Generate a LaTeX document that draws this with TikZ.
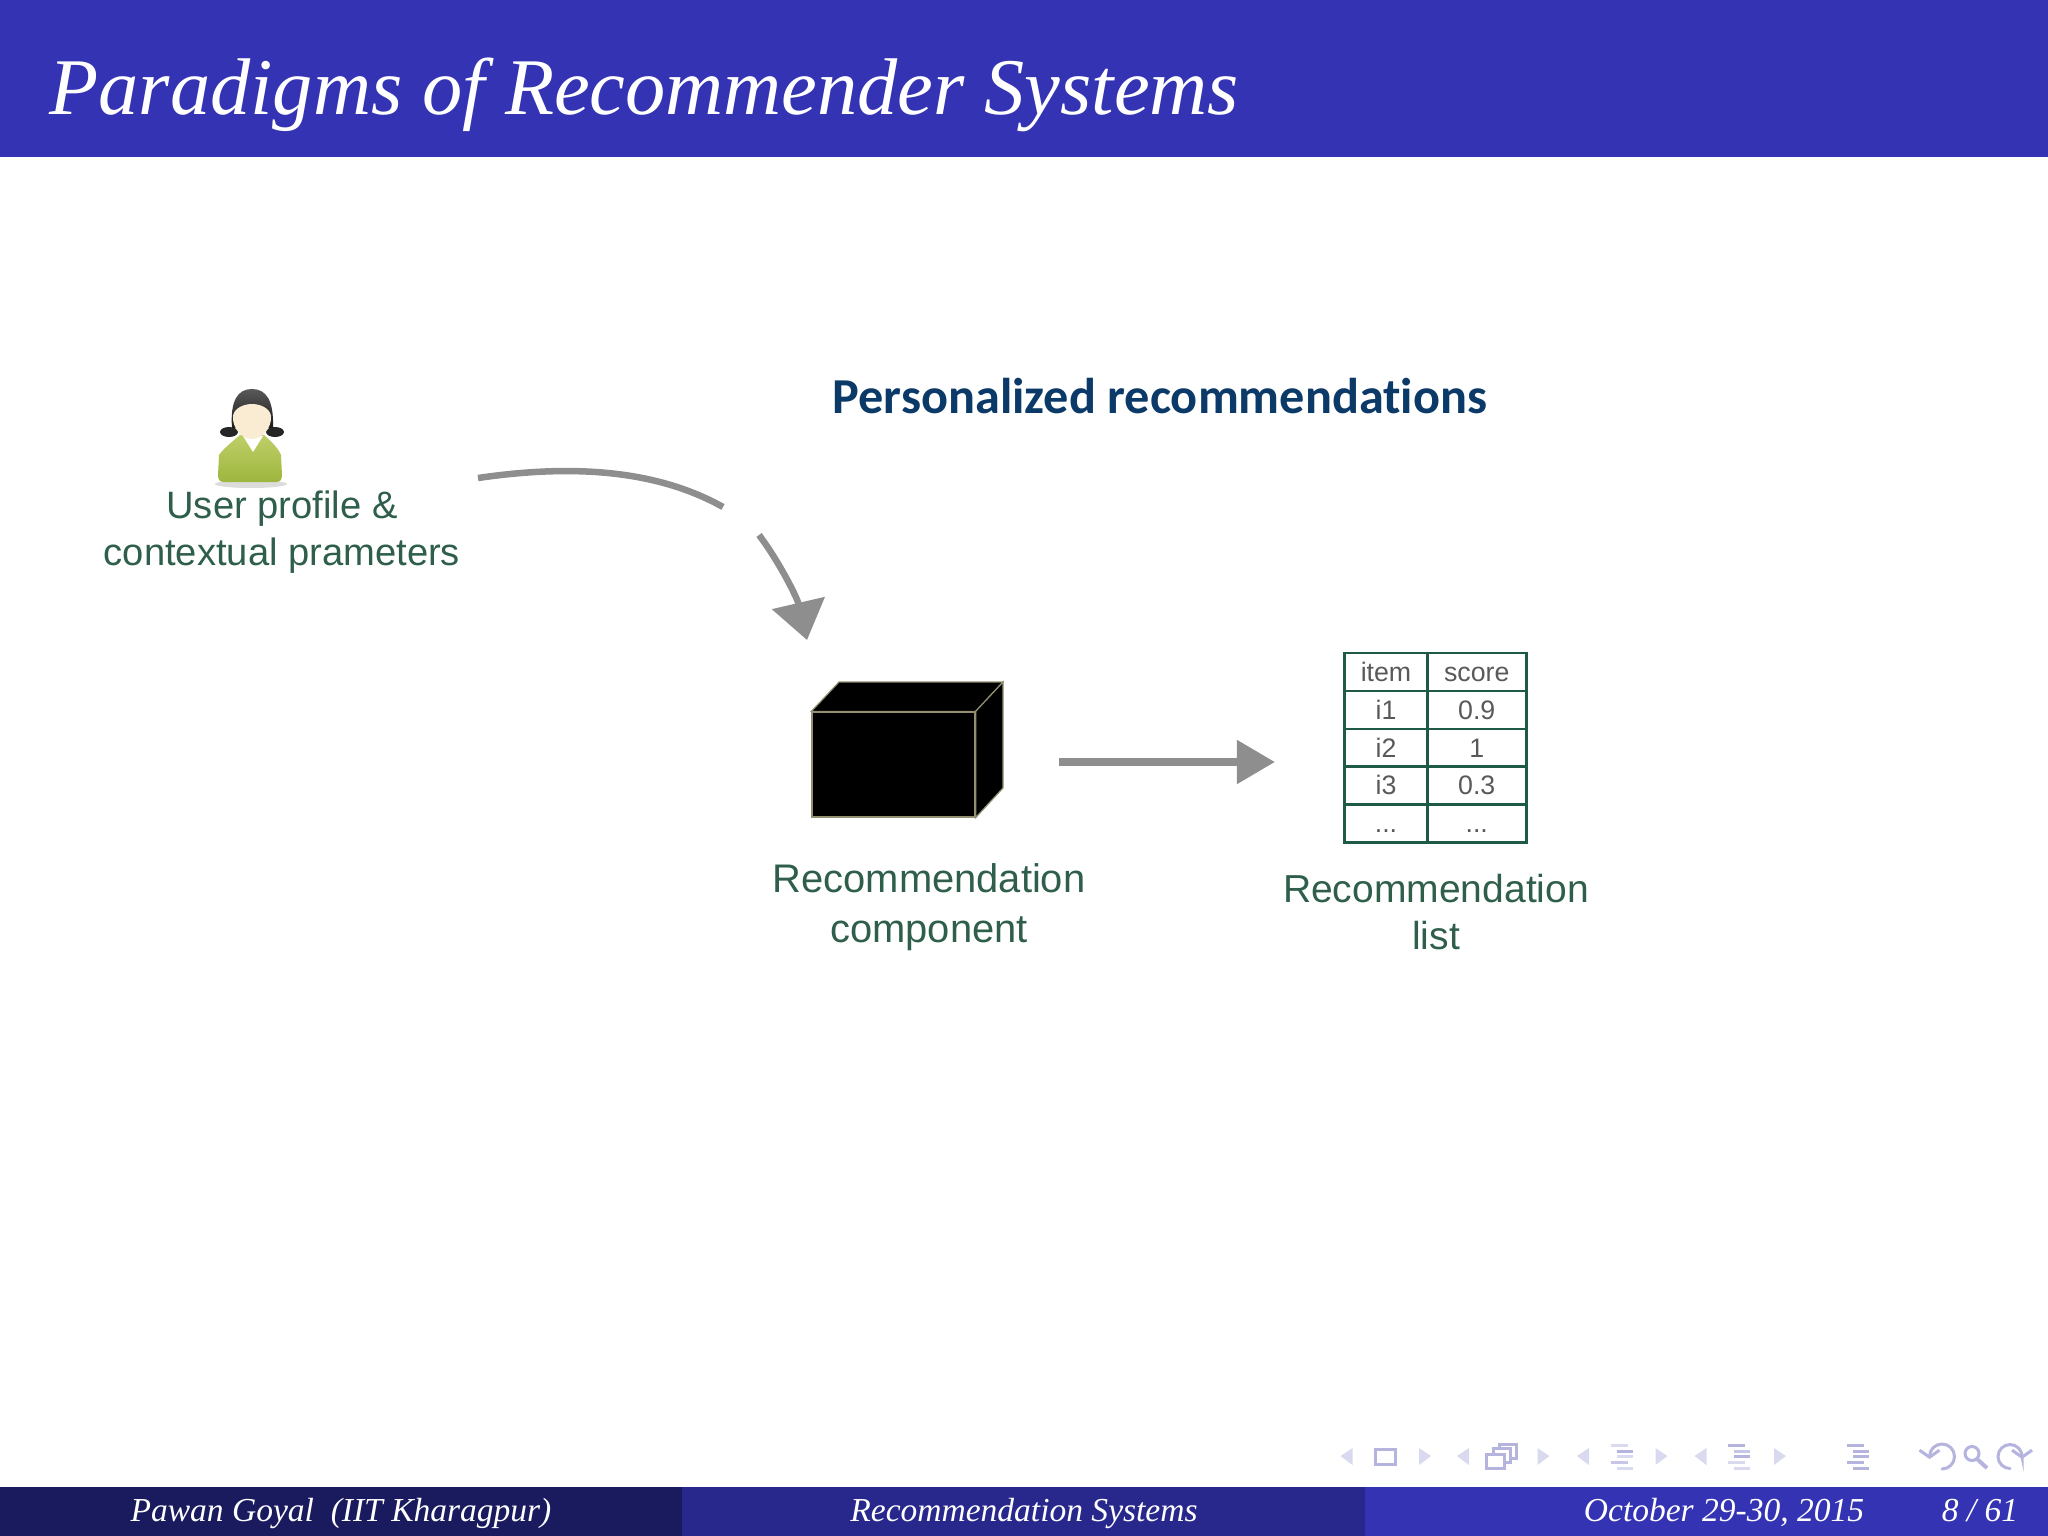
\documentclass[tikz,border=0pt]{standalone}
\usepackage{fontspec}
\setmainfont{Liberation Serif}
\newfontfamily\labelfont{Liberation Sans}
\newfontfamily\headfont[Ligatures=NoCommon]{Carlito}
\usetikzlibrary{arrows.meta,calc}
\definecolor{barblue}{HTML}{3333B3}
\definecolor{barmid}{HTML}{28288C}
\definecolor{bardark}{HTML}{1A1A5E}
\definecolor{labelgreen}{HTML}{2F5F4B}
\definecolor{headblue}{HTML}{0C3A68}
\definecolor{flowgray}{HTML}{8E8E8E}
\definecolor{tablegreen}{HTML}{1F5A46}
\definecolor{navfaint}{HTML}{D9D9EF}
\definecolor{navmid}{HTML}{C6C6E6}
\definecolor{navstrong}{HTML}{B4B4DE}
\definecolor{skintone}{HTML}{F9ECD2}
\definecolor{shirtlight}{HTML}{BFCF68}
\definecolor{shirtmid}{HTML}{A9C24A}
\definecolor{shirtdark}{HTML}{9DB63E}
\tikzset{
	slidetitle/.style={text=white, anchor=base west, inner sep=0pt, font=\fontsize{22.85}{27}\selectfont\itshape},
	foottext/.style={text=white, anchor=base, inner sep=0pt, font=\fontsize{9.53}{12}\selectfont\itshape},
	partlabel/.style={text=labelgreen, align=center, inner sep=0pt, font=\fontsize{11.1}{13.1}\selectfont\labelfont},
	cellbox/.style={draw=tablegreen, line width=0.025cm, text=black!65, inner sep=0pt, minimum height=0.38cm, text height=0.18cm, text depth=0pt, font=\fontsize{7.6}{9}\selectfont\labelfont},
	flowline/.style={draw=flowgray, line width=0.065cm},
	navstroke/.style={draw=navstrong, line width=0.03cm},
	navcurl/.style={navstroke, line cap=round, {Straight Barb[length=0.07cm, width=0.2cm]}-}
}
\newcommand{\navbars}[6]{
	\foreach \barshift/\barfrom/\barto/\barcolor in {0/0/17/#2, 6/6/22/#3, 11/6/22/#4, 17/0/17/#5, 23/6/22/#6}
		\draw[\barcolor, line width=0.03cm] (#1+\barfrom, 1445+\barshift) -- (#1+\barto, 1445+\barshift);
}
\newcommand{\celldots}{...}
\begin{document}
\begin{tikzpicture}[x=0.01cm, y=-0.01cm]
	\useasboundingbox (0, 0) rectangle (2048, 1536);
	
	%%%%% bars %%%%%
	\fill[barblue] (0, 0) rectangle (2048, 156.5);
	\fill[bardark] (0, 1487) rectangle (682, 1536);
	\fill[barmid] (682, 1487) rectangle (1365, 1536);
	\fill[barblue] (1365, 1487) rectangle (2048, 1536);
	
	\node[slidetitle] (title) at (49, 114) {Paradigms of Recommender Systems};
	\node[foottext] (footauthor) at (341, 1521) {Pawan Goyal\ \ (IIT Kharagpur)};
	\node[foottext] (foottopic) at (1024, 1521) {Recommendation Systems};
	\node[foottext] (footdate) at (1724, 1521) {October 29-30, 2015};
	\node[foottext] (footpage) at (1980, 1521) {8 / 61};
	
	\node[text=headblue, anchor=base, inner sep=0pt, font=\fontsize{14.3}{17}\selectfont\headfont\bfseries] (headline) at (1160, 413) {Personalized recommendations};
	
	%%%%% user %%%%%
	\fill[black!30, opacity=0.45] (251, 484) ellipse (36 and 4);
	\fill[black!85] (229, 432) ellipse (9 and 5);
	\fill[black!85] (275, 432) ellipse (9 and 5);
	\path[top color=shirtlight, middle color=shirtmid, bottom color=shirtdark] (219, 455) .. controls (224, 448) and (232, 442) .. (240, 435) -- (264, 435) .. controls (272, 442) and (278, 448) .. (281, 455) -- (282, 475) .. controls (282, 480) and (280, 482) .. (276, 482) -- (224, 482) .. controls (220, 482) and (218, 480) .. (218, 475) -- cycle;
	\path[top color=black!65, bottom color=black!90] (232, 428) .. controls (230, 400) and (238, 389) .. (252, 389) .. controls (266, 389) and (274, 400) .. (273, 428) -- cycle;
	\fill[white] (243, 436) -- (263, 436) -- (253, 452) -- cycle;
	\fill[skintone] (233, 416) .. controls (234, 408) and (244, 404) .. (252, 404) .. controls (260, 404) and (270, 408) .. (271, 416) .. controls (272, 428) and (262, 439) .. (252, 439) .. controls (242, 439) and (232, 428) .. (233, 416) -- cycle;
	
	\node[partlabel, font=\fontsize{10.85}{13.4}\selectfont\labelfont] (userlabel) at (282, 532) {User profile \&\\contextual prameters};
	
	%%%%% curved arrow %%%%%
	\coordinate (bendstart) at (478, 478);
	\coordinate (bendgapin) at (723, 507);
	\coordinate (bendgapout) at (759, 535);
	\coordinate (bendtip) at (807, 640);
	\draw[flowline] (bendstart) .. controls (560, 466) and (650, 466) .. (bendgapin);
	\draw[flowline, -{Triangle[length=0.38cm, width=0.53cm]}] (bendgapout) .. controls (778, 560) and (797, 597) .. (bendtip);
	
	%%%%% black box %%%%%
	\node[fill=black, draw=black!70!yellow!70, line width=0.012cm, minimum width=1.63cm, minimum height=1.05cm, inner sep=0pt] (reccube) at (893.5, 764.5) {};
	\draw[fill=black, draw=black!70!yellow!70, line width=0.012cm] (reccube.north west) -- (839, 682) -- (1003, 682) -- (reccube.north east) -- cycle;
	\draw[fill=black, draw=black!70!yellow!70, line width=0.012cm] (reccube.north east) -- (1003, 682) -- (1003, 788) -- (reccube.south east) -- cycle;
	
	\node[partlabel, font=\fontsize{11.35}{14.1}\selectfont\labelfont] (reclabel) at (929, 907) {Recommendation\\component};
	
	%%%%% straight arrow %%%%%
	\coordinate (flowstart) at (1059, 762);
	\coordinate (flowtip) at (1275, 762);
	\draw[flowline, line width=0.08cm, -{Triangle[length=0.38cm, width=0.42cm]}] (flowstart) -- (flowtip);
	
	%%%%% table %%%%%
	\foreach \rowname/\rowy/\lefttext/\righttext in {a/672/item/score, b/710/i1/0.9, c/748/i2/1, d/785.5/i3/0.3, e/823.5/\celldots/\celldots} {
		\node[cellbox, minimum width=0.825cm] (left\rowname) at (1386, \rowy) {\lefttext};
		\node[cellbox, minimum width=0.99cm] (right\rowname) at (1476.75, \rowy) {\righttext};
	}
	
	\node[partlabel] (listlabel) at (1436, 912) {Recommendation\\list};
	
	%%%%% navigation symbols %%%%%
	\foreach \navx in {1352.5, 1469, 1589, 1706.5}
		\fill[navfaint] (\navx, 1448) -- (\navx-12, 1456) -- (\navx, 1465) -- cycle;
	\foreach \navx in {1419, 1537.5, 1655.5, 1774}
		\fill[navfaint] (\navx, 1448) -- (\navx+12, 1456) -- (\navx, 1465) -- cycle;
	\draw[navstroke] (1375, 1449) rectangle (1395, 1464);
	\draw[navstroke] (1499, 1444.5) rectangle (1516, 1458);
	\draw[navstroke, fill=white] (1493, 1448) rectangle (1510, 1462);
	\draw[navstroke, fill=white] (1486.5, 1454) rectangle (1504, 1468);
	\navbars{1610.7}{navfaint}{navstrong}{navfaint}{navmid}{navfaint}
	\navbars{1728}{navstrong}{navmid}{navstrong}{navfaint}{navfaint}
	\navbars{1847}{navstrong}{navstrong}{navstrong}{navstrong}{navstrong}
	\draw[navcurl] (1929.5, 1459) -- (1929.5, 1456.5) .. controls (1929.5, 1449.6) and (1935.1, 1444) .. (1942, 1444) .. controls (1948.9, 1444) and (1954.5, 1449.6) .. (1954.5, 1456.5) .. controls (1954.5, 1463.4) and (1948.9, 1469) .. (1942, 1469);
	\draw[navstroke] (1972, 1453.5) circle (7);
	\draw[navstroke, line width=0.04cm] (1977, 1459) -- (1987, 1468);
	\draw[navcurl] (2022, 1459) -- (2022, 1456.5) .. controls (2022, 1449.9) and (2016.6, 1444.5) .. (2010, 1444.5) .. controls (2003.4, 1444.5) and (1998, 1449.9) .. (1998, 1456.5) .. controls (1998, 1463.1) and (2003.4, 1468.5) .. (2010, 1468.5);
\end{tikzpicture}
\end{document}
